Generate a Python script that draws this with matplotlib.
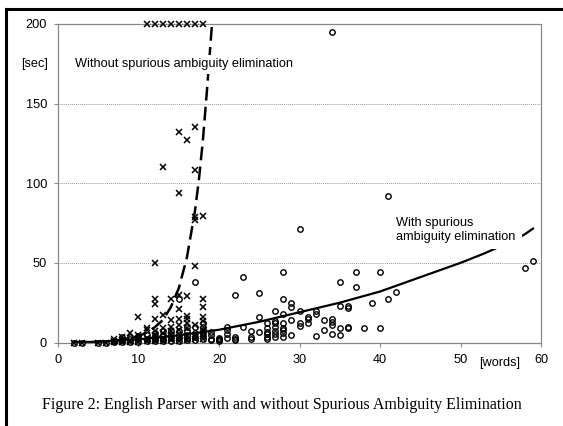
import matplotlib
matplotlib.use("Agg")
import matplotlib.pyplot as plt
from matplotlib.lines import Line2D

# sentences without spurious ambiguity elimination (x markers)
wo_words = [2, 3, 5, 6, 7, 7, 8, 8, 9, 9, 10, 10, 11, 11, 12, 12, 13, 13, 14, 14, 15, 15, 16, 16, 17, 17, 18, 18,
            7, 8, 9, 10, 10, 11, 11, 12, 12, 12, 12, 12, 12, 13, 13, 13, 14, 14, 14, 14, 14, 15, 15, 15, 15, 15, 15,
            15, 16, 16, 16, 16, 16, 16, 17, 17, 17, 17, 17, 17, 18, 18, 18, 18, 18, 18, 13,
            11, 12, 13, 14, 15, 16, 17, 18]
wo_sec = [0, 0, 0, 0, 0.3, 1, 0.5, 1.5, 0.5, 1.5, 0.5, 2, 1, 3, 1, 2.5, 1, 3, 1.5, 3, 1, 3, 1.5, 4, 2, 4, 2, 4,
          2.5, 3.6, 6, 5, 16, 8, 9, 4.5, 7, 15, 24, 27, 50, 6, 9, 17, 5, 7, 10, 14, 27, 8, 11, 14.5, 21, 30, 94,
          132, 9, 12, 15, 16.5, 29.5, 127, 11, 48, 77, 79, 108, 135, 8, 13.7, 15.8, 22, 27.3, 79.5, 110,
          200, 200, 200, 200, 200, 200, 200, 200]

# sentences with spurious ambiguity elimination (o markers)
w_words = [2, 3, 5, 6, 7, 7, 8, 8, 8, 9, 9, 9, 10, 10, 10, 11, 11, 11, 12, 12, 12, 12, 13, 13, 13, 13,
           14, 14, 14, 14, 15, 15, 15, 15, 15, 16, 16, 16, 16, 16, 17, 17, 17, 17, 17, 18, 18, 18, 18, 18, 18,
           19, 19, 19, 19, 20, 20, 20, 20, 21, 21, 21, 21, 22, 22, 22, 22, 23, 23, 24, 24, 24, 25, 25, 25,
           26, 26, 26, 26, 26, 26, 27, 27, 27, 27, 27, 27, 27, 28, 28, 28, 28, 28, 28, 28, 28,
           29, 29, 29, 29, 30, 30, 30, 30, 31, 31, 31, 32, 32, 32, 33, 33, 34, 34, 34, 34, 34,
           35, 35, 35, 35, 36, 36, 36, 36, 37, 37, 38, 39, 40, 40, 41, 41, 42, 58, 59]
w_sec = [0, 0, 0, 0, 0.3, 1, 0.5, 1.5, 3.5, 0.5, 2, 3.5, 0.5, 2, 4, 1, 2.5, 4.5, 1, 2.5, 4, 6, 1, 2.5, 4.5, 7,
         1, 3, 5, 7, 1, 3, 5, 7, 27, 1.5, 3, 5, 7, 10, 1.5, 3.5, 6, 10, 38, 2, 4, 6, 8, 10, 12,
         1.6, 2.5, 4.5, 6.5, 1, 1.5, 2, 2.8, 2.6, 5.3, 8, 10, 1.6, 2.5, 3.6, 30, 10, 41, 2, 3.6, 7, 6.8, 16, 31,
         2, 3.6, 5.3, 6.8, 9, 12, 3.6, 5.3, 7.5, 10, 12, 13.5, 20, 3.6, 6, 7.9, 9.3, 12, 18, 27, 44,
         4.7, 14.2, 22.5, 25, 10.4, 12.5, 20, 71, 12.5, 15, 16.2, 4.1, 17.7, 19.8, 7.9, 14.2, 5.1, 11, 12.7, 14.8, 195,
         4.7, 9.3, 23, 38, 9, 10, 21.5, 23, 35, 44, 9.3, 25, 9.3, 44, 27, 92, 32, 47, 51]

# trend curves
wo_curve_x = [2, 4, 6, 8, 10, 11, 12, 13, 14, 15, 16, 17, 17.5, 18, 18.5, 19.1]
wo_curve_y = [0.1, 0.3, 0.7, 1.7, 4, 6.3, 9.5, 14, 22, 34, 53, 82, 102, 127, 158, 198]
w_curve_x = [2, 5, 10, 15, 20, 25, 30, 35, 40, 45, 50, 53, 55, 57, 58, 59]
w_curve_y = [0.1, 0.5, 2, 4.5, 8, 13, 19, 25, 32, 41, 50, 56, 60.5, 65, 68, 71.5]

x_ticks = [0, 10, 20, 30, 40, 50, 60]
y_ticks = [0, 50, 100, 150, 200]

fs = 9.2
fig = plt.figure(figsize=(5.63, 4.26), dpi=100)
ax = fig.add_axes([0.103, 0.196, 0.858, 0.748])

ax.plot(w_curve_x, w_curve_y, color="black", lw=1.6, zorder=2)
ax.plot(wo_curve_x, wo_curve_y, color="black", lw=1.8, dashes=(5.5, 2.5), zorder=2)
ax.plot(w_words, w_sec, linestyle="none", marker="o", ms=3.9, mfc="none", mec="black", mew=1.0, zorder=3,
        clip_on=False)
ax.plot(wo_words, wo_sec, linestyle="none", marker="x", ms=3.7, mec="black", mew=1.1, zorder=3, clip_on=False)

ax.set_xlim(0, 60)
ax.set_ylim(0, 200)
ax.set_xticks(x_ticks)
ax.set_yticks(y_ticks)
ax.tick_params(axis="both", labelsize=fs, length=3, width=0.8, color="#888888", pad=5)
for lab in ax.get_xticklabels() + ax.get_yticklabels():
    lab.set_family("Liberation Sans")
ax.grid(axis="y", linestyle=(0, (1, 1)), color="#999999", lw=0.7)
for sp in ax.spines.values():
    sp.set_linestyle((0, (1, 1)))
    sp.set_color("#888888")
    sp.set_linewidth(0.9)

ax.text(2.1, 174.5, "Without spurious ambiguity elimination", fontsize=fs, family="Liberation Sans",
        va="center", ha="left", bbox=dict(facecolor="white", edgecolor="none", pad=2.5), zorder=4)
ax.text(42.0, 70.6, "With spurious\nambiguity elimination", fontsize=fs, family="Liberation Sans",
        va="center", ha="left", linespacing=1.2,
        bbox=dict(facecolor="white", edgecolor="none", pad=4.5), zorder=4)
ax.text(-1.2, 174.5, "[sec]", fontsize=fs, family="Liberation Sans", va="center", ha="right")
ax.text(54.9, -12.8, "[words]", fontsize=fs, family="Liberation Sans", va="center", ha="center")

fig.text(0.5, 1 - 405 / 426, "Figure 2: English Parser with and without Spurious Ambiguity Elimination",
         fontsize=11.5, family="Liberation Serif", ha="center", va="center")

# frame of the scanned figure (only top and left edges are visible)
fig.add_artist(Line2D([0.0098, 0.0098], [0, 0.98], color="black", lw=2.2, transform=fig.transFigure))
fig.add_artist(Line2D([0.0098, 1], [0.98, 0.98], color="black", lw=2.2, transform=fig.transFigure))

fig.savefig("out.png", dpi=100)
